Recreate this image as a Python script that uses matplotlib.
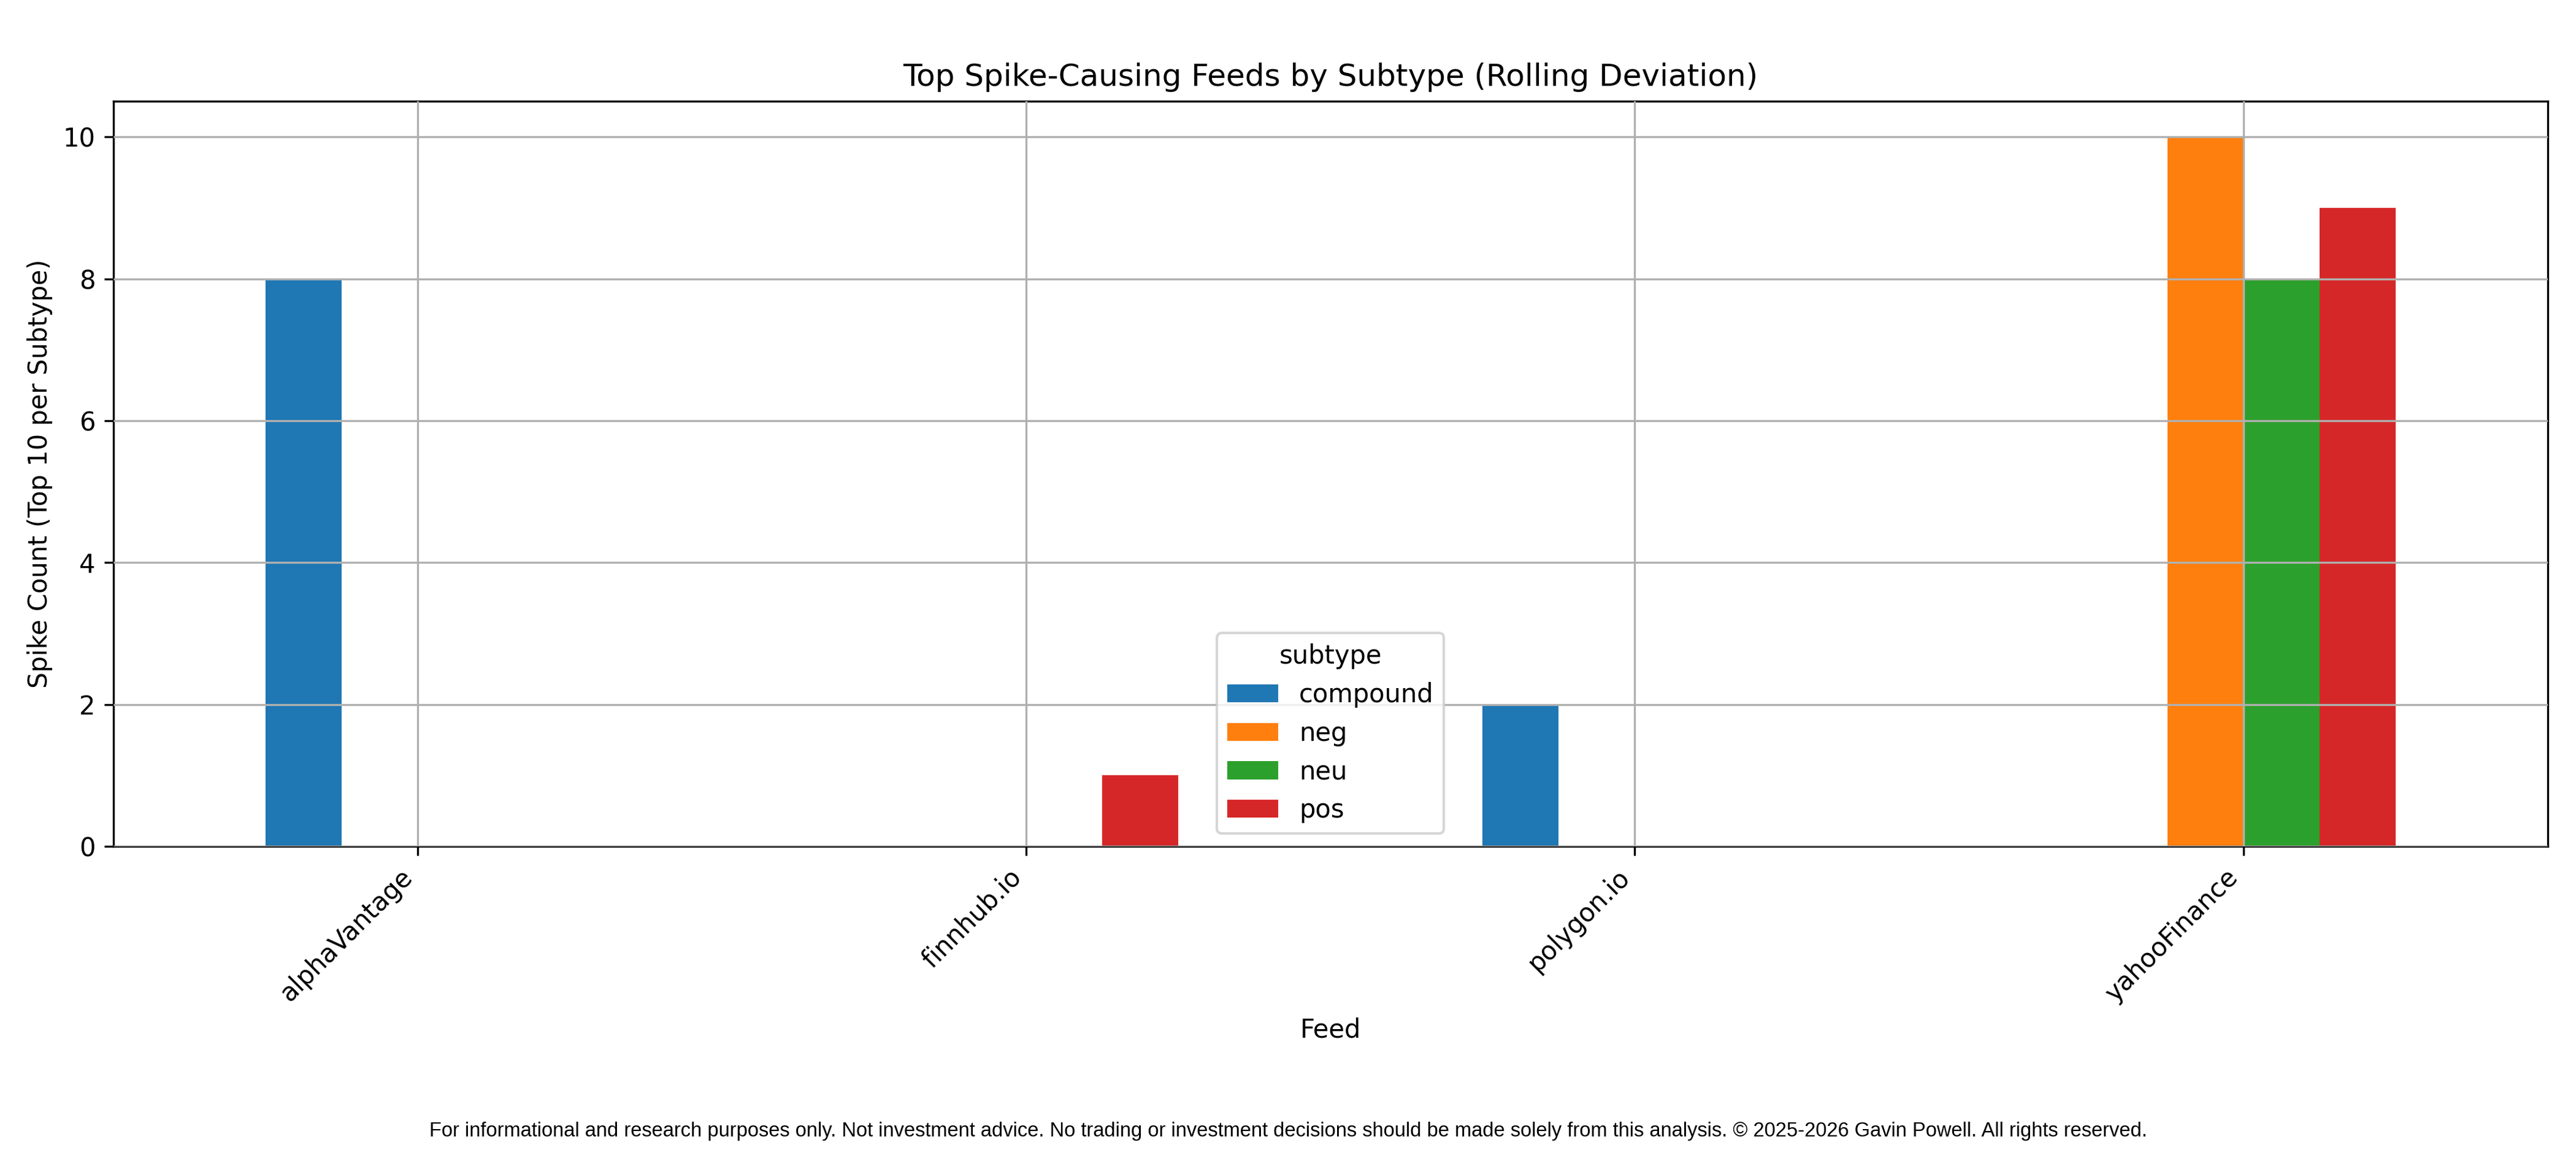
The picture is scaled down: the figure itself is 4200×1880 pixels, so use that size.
import matplotlib
matplotlib.use("Agg")
import matplotlib.pyplot as plt
import pandas as pd

feeds = ["alphaVantage", "finnhub.io", "polygon.io", "yahooFinance"]
compound = [8, 0, 2, 0]
neg = [0, 0, 0, 10]
neu = [0, 0, 0, 8]
pos = [0, 1, 0, 9]

df = pd.DataFrame({"compound": compound, "neg": neg, "neu": neu, "pos": pos}, index=feeds)
df.columns.name = "subtype"

fig, ax = plt.subplots(figsize=(14, 6.2667))
df.plot(kind="bar", ax=ax)

ax.set_title("Top Spike-Causing Feeds by Subtype (Rolling Deviation)")
ax.set_xlabel("Feed")
ax.set_ylabel("Spike Count (Top 10 per Subtype)")
plt.setp(ax.get_xticklabels(), rotation=45, ha="right")
ax.grid(True)
ax.set_axisbelow(False)
ax.legend(title="subtype", loc="lower center")

fig.subplots_adjust(left=0.044, right=0.989, top=0.912, bottom=0.266)

# disclaimer footer
fig.text(
    0.5, 0.0145,
    "For informational and research purposes only. Not investment advice. No trading or investment "
    "decisions should be made solely from this analysis. \u00a9 2025-2026 Gavin Powell. All rights reserved.",
    ha="center", fontsize=7.85, family="Liberation Sans"
)

plt.savefig("out.png", dpi=300)
